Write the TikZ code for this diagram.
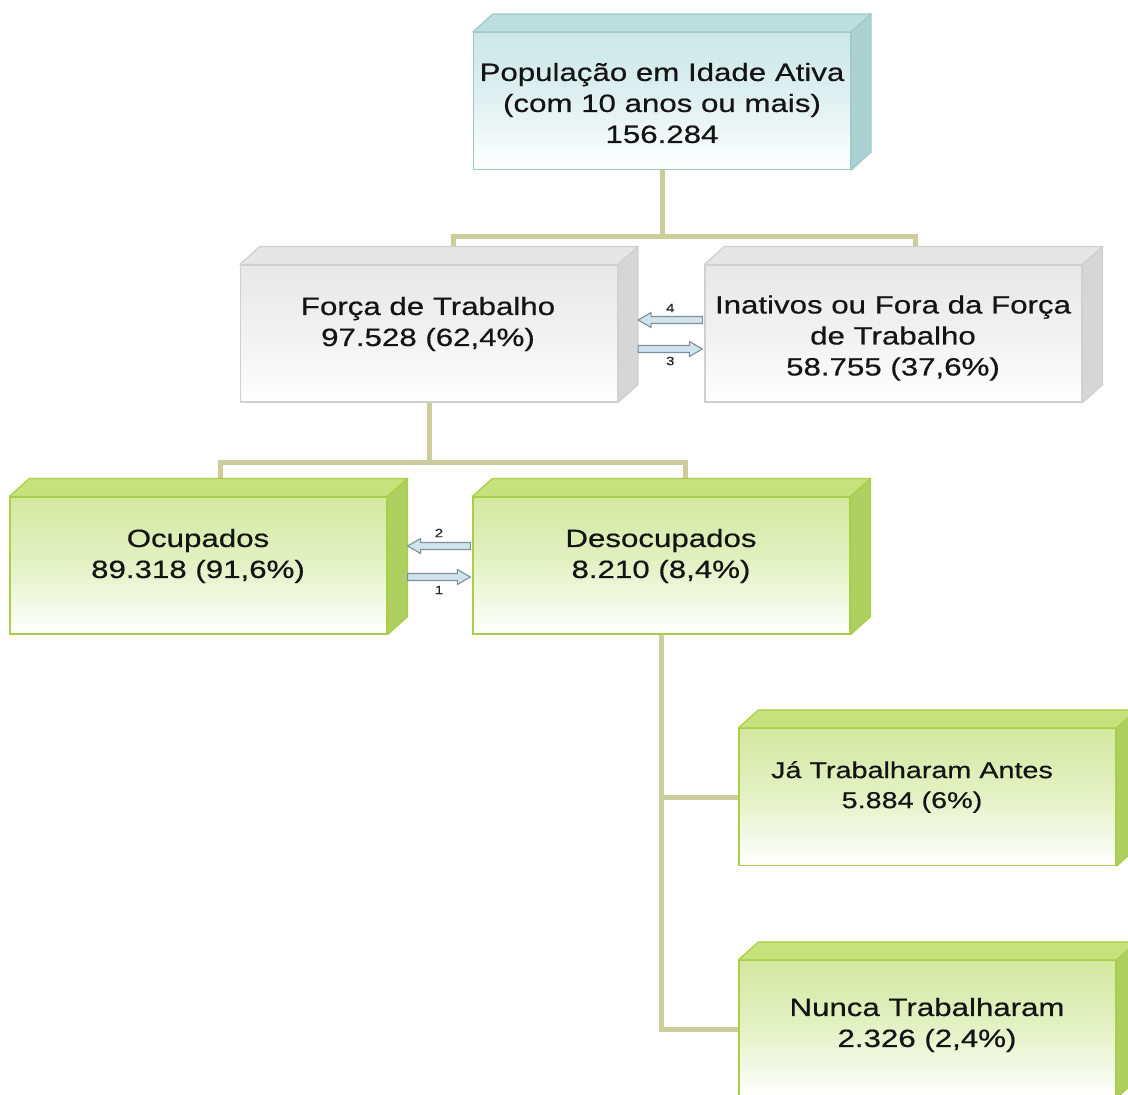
\documentclass[tikz,border=0pt]{standalone}
\usepackage{fontspec}
\setmainfont{Liberation Sans}[FakeStretch=1.25,FakeBold=0.5]
\usetikzlibrary{calc,backgrounds}
\definecolor{tealT}{HTML}{CCE7E7}
\definecolor{tealTop}{HTML}{BCDEDE}
\definecolor{tealSide}{HTML}{ACD1D2}
\definecolor{tealB}{HTML}{9FC9C9}
\definecolor{grayT}{HTML}{E8E8E8}
\definecolor{grayTop}{HTML}{E6E6E6}
\definecolor{graySide}{HTML}{D6D6D6}
\definecolor{grayB}{HTML}{D0D0D0}
\definecolor{greenT}{HTML}{D3E8A0}
\definecolor{greenTop}{HTML}{C5E27C}
\definecolor{greenSide}{HTML}{AED060}
\definecolor{greenB}{HTML}{A8CF45}
\definecolor{khaki}{RGB}{204,204,156}
\definecolor{arrG}{HTML}{7F8F99}
\definecolor{arrF}{HTML}{CFE4EC}
\tikzset{
  cubebox/.style={rectangle, minimum width=377pt, minimum height=137pt, inner sep=0pt, line width=1.2pt},
  tealbox/.style={cubebox, draw=tealB, top color=tealT, bottom color=white, middle color=tealT!60},
  graybox/.style={cubebox, draw=grayB, top color=grayT, bottom color=white, middle color=grayT!60},
  greenbox/.style={cubebox, draw=greenB, top color=greenT, bottom color=white, middle color=greenT!60},
  lbl/.style={font=\fontsize{25}{31}\selectfont, align=center, text=black!92, inner sep=0pt},
  lblsmall/.style={lbl, font=\fontsize{23}{30}\selectfont},
  conn/.style={draw=khaki, line width=5pt},
  num/.style={font=\fontsize{12}{13}\selectfont, inner sep=0pt, text=black!85},
  harrowst/.style={draw=arrG, fill=arrF, line width=1.1pt, line join=miter},
}
\newcommand\cubefaces[4]{%
  \filldraw[draw=#4, fill=#2, line width=1.2pt, line join=round]
    (#1.north west) -- ($(#1.north west)+(20,-18)$) -- ($(#1.north east)+(20,-18)$) -- (#1.north east) -- cycle;
  \filldraw[draw=#4, fill=#3, line width=1.2pt, line join=round]
    (#1.north east) -- ($(#1.north east)+(20,-18)$) -- ($(#1.south east)+(20,-18)$) -- (#1.south east) -- cycle;}
\newcommand\harr[3]{%
  \filldraw[harrowst] let \p1=(#1), \p2=(#2) in
    (\x1,{\y1+3.5pt}) -- ({\x2+(#3pt)},{\y1+3.5pt}) -- ({\x2+(#3pt)},{\y1+7.5pt}) -- (\x2,\y1)
    -- ({\x2+(#3pt)},{\y1-7.5pt}) -- ({\x2+(#3pt)},{\y1-3.5pt}) -- (\x1,{\y1-3.5pt}) -- cycle;}
\begin{document}
\begin{tikzpicture}[x=1pt,y=-1pt]
\useasboundingbox (0,0) rectangle (1128,1095);
% boxes
\node[tealbox] (pop) at (662,101) {};
\cubefaces{pop}{tealTop}{tealSide}{tealB}
\node[graybox] (force) at (429,333.5) {};
\cubefaces{force}{grayTop}{graySide}{grayB}
\node[graybox] (inat) at (893.5,333.5) {};
\cubefaces{inat}{grayTop}{graySide}{grayB}
\node[greenbox] (ocup) at (198.5,565.5) {};
\cubefaces{ocup}{greenTop}{greenSide}{greenB}
\node[greenbox] (desoc) at (661.5,565.5) {};
\cubefaces{desoc}{greenTop}{greenSide}{greenB}
\node[greenbox] (ja) at (927.5,797) {};
\cubefaces{ja}{greenTop}{greenSide}{greenB}
\node[greenbox] (nunca) at (927.5,1029) {};
\cubefaces{nunca}{greenTop}{greenSide}{greenB}
% texts
\node[lbl] (tpop) at (662,103) {População em Idade Ativa\\(com 10 anos ou mais)\\156.284};
\node[lbl] (tforce) at (428,324) {Força de Trabalho\\97.528 (62,4\%)};
\node[lbl] (tinat) at (893,338) {Inativos ou Fora da Força\\de Trabalho\\58.755 (37,6\%)};
\node[lbl] (tocup) at (198,556) {Ocupados\\89.318 (91,6\%)};
\node[lbl] (tdesoc) at (661,556) {Desocupados\\8.210 (8,4\%)};
\node[lblsmall] (tja) at (912,787) {Já Trabalharam Antes\\5.884 (6\%)};
\node[lbl] (tnunca) at (927,1025) {Nunca Trabalharam\\2.326 (2,4\%)};
% connectors
\begin{scope}[on background layer]
\fill[white] (0,0) rectangle (1128,1095);
\coordinate (j1) at ($(pop.south)+(0,66)$);
\draw[conn] (pop.south) -- (j1);
\draw[conn] ($(force.north)+(24,-18)$) |- (j1) -| ($(inat.north)+(22,-18)$);
\coordinate (j2) at ($(force.south)+(0,60)$);
\draw[conn] (force.south) -- (j2);
\draw[conn] ($(ocup.north)+(22,-18)$) |- (j2) -| ($(desoc.north)+(24,-18)$);
\draw[conn] (desoc.south) |- (nunca.west);
\draw[conn] (desoc.south |- ja.west) -- (ja.west);
\end{scope}
% transition arrows
\coordinate (a4s) at ($(inat.west)+(-2,-13.5)$);
\coordinate (a4e) at ($(force.east)+(20,-13.5)$);
\harr{a4s}{a4e}{13}
\coordinate (a3s) at ($(force.east)+(20,15.5)$);
\coordinate (a3e) at ($(inat.west)+(-2,15.5)$);
\harr{a3s}{a3e}{-13}
\coordinate (a2s) at ($(desoc.west)+(-2,-19.5)$);
\coordinate (a2e) at ($(ocup.east)+(20,-19.5)$);
\harr{a2s}{a2e}{13}
\coordinate (a1s) at ($(ocup.east)+(20,11.5)$);
\coordinate (a1e) at ($(desoc.west)+(-2,11.5)$);
\harr{a1s}{a1e}{-13}
\node[num] (n4) at ($(a4s)!0.5!(a4e)+(0,-12)$) {4};
\node[num] (n3) at ($(a3s)!0.5!(a3e)+(0,12)$) {3};
\node[num] (n2) at ($(a2s)!0.5!(a2e)+(0,-13)$) {2};
\node[num] (n1) at ($(a1s)!0.5!(a1e)+(0,13)$) {1};
\end{tikzpicture}
\end{document}
